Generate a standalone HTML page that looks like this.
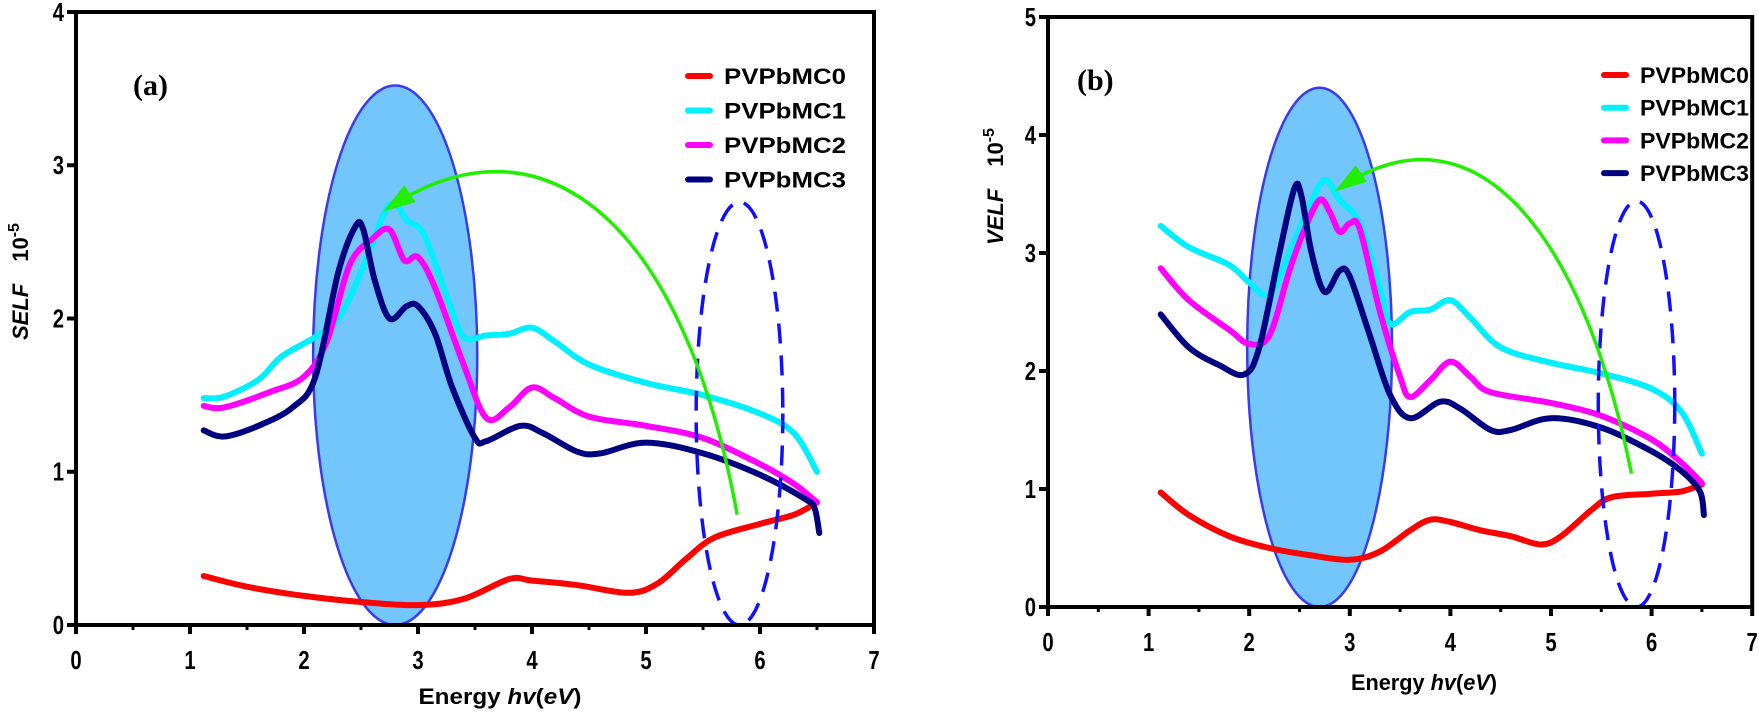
<!DOCTYPE html>
<html><head><meta charset="utf-8"><style>
html,body{margin:0;padding:0;background:#fff}
svg{display:block}
text{font-family:"Liberation Sans",sans-serif;font-weight:bold;fill:#000}
</style></head><body>
<svg id="s" width="1759" height="715" viewBox="0 0 1759 715" xmlns="http://www.w3.org/2000/svg">
<g id="g"></g>
</svg>
<script>
const NS="http://www.w3.org/2000/svg";
const g=document.getElementById('g');
function el(t,a,txt){const e=document.createElementNS(NS,t);for(const k in a)e.setAttribute(k,a[k]);if(txt!==undefined)e.textContent=txt;g.appendChild(e);return e;}
function path(pts){let d="M"+pts[0][0].toFixed(1)+","+pts[0][1].toFixed(1);
 for(let i=0;i<pts.length-1;i++){const p0=pts[i-1]||pts[i],p1=pts[i],p2=pts[i+1],p3=pts[i+2]||p2;
 const c1=[p1[0]+(p2[0]-p0[0])/6,p1[1]+(p2[1]-p0[1])/6],c2=[p2[0]-(p3[0]-p1[0])/6,p2[1]-(p3[1]-p1[1])/6];
 d+=" C"+c1.map(v=>v.toFixed(1))+" "+c2.map(v=>v.toFixed(1))+" "+p2.map(v=>v.toFixed(1));}
 return d;}
function panel(P){
 const X=e=>P.x0+P.sx*e, Y=v=>P.y0-P.sy*v;
 el('ellipse',{cx:X(P.el[0]),cy:Y(P.el[1]),rx:P.sx*P.el[2],ry:P.sy*P.el[1],fill:'#72c6fb',stroke:'#3a3af0','stroke-width':2.5});
 const cols=['#ff0000','#00f0ff','#ff00ff','#000080'];
 P.data.forEach((d,i)=>{el('path',{d:path(d.map(p=>[X(p[0]),Y(p[1])])),fill:'none',stroke:cols[i],'stroke-width':6,'stroke-linecap':'round','stroke-linejoin':'round'});});
 el('ellipse',{cx:X(P.de[0]),cy:Y(P.de[1]),rx:P.sx*P.de[2],ry:P.sy*P.de[1],fill:'none',stroke:'#1010ff','stroke-width':3.5,'stroke-dasharray':'20 12'});
 const a=P.ar.map(p=>[X(p[0]),Y(p[1])]);
 el('path',{d:`M${a[0]} C${a[1]} ${a[2]} ${a[3]}`,fill:'none',stroke:'#22ee00','stroke-width':3.5});
 const h=a[3],c=a[2];const ang=Math.atan2(h[1]-c[1],h[0]-c[0]);const L=26,W=10;
 const b=[h[0]-L*Math.cos(ang),h[1]-L*Math.sin(ang)];
 el('polygon',{points:`${h[0]+6*Math.cos(ang)},${h[1]+6*Math.sin(ang)} ${b[0]-W*Math.sin(ang)},${b[1]+W*Math.cos(ang)} ${b[0]+W*Math.sin(ang)},${b[1]-W*Math.cos(ang)}`,fill:'#22ee00'});
 el('rect',{x:X(0),y:Y(P.ymax),width:P.sx*7,height:P.sy*P.ymax,fill:'none',stroke:'#000','stroke-width':4});
 for(let i=0;i<=14;i++){const x=X(i/2);el('line',{x1:x,x2:x,y1:Y(0),y2:Y(0)+(i%2?5:9),stroke:'#000','stroke-width':i%2?3:4});}
 for(let i=0;i<=7;i++)el('text',{x:X(i),y:Y(0)+P.tly,'text-anchor':'middle','font-size':26,transform:`translate(${X(i)} 0) scale(0.78 1) translate(${-X(i)} 0)`},i);
 for(let v=0;v<=P.ymax;v++){el('line',{x1:X(0)-9,x2:X(0),y1:Y(v),y2:Y(v),stroke:'#000','stroke-width':4});
  el('text',{x:X(0)-12,y:Y(v)+9,'text-anchor':'end','font-size':26,transform:`translate(${X(0)-12} 0) scale(0.78 1) translate(${-(X(0)-12)} 0)`},v);}
 const names=['PVPbMC0','PVPbMC1','PVPbMC2','PVPbMC3'];
 names.forEach((n,i)=>{const y=P.lg[1]+i*P.lg[2];el('line',{x1:P.lg[0],x2:P.lg[0]+22,y1:y,y2:y,stroke:cols[i],'stroke-width':6,'stroke-linecap':'round'});
  el('text',{x:P.lg[0]+36,y:y+8,'font-size':22,textLength:P.lg[3],lengthAdjust:'spacingAndGlyphs'},n);});
 el('text',{x:P.lab[0],y:P.lab[1],'font-size':30,style:'font-family:"Liberation Serif",serif'},P.lab[2]);
 const t=el('text',{x:P.xt[0],y:P.xt[1],'text-anchor':'middle','font-size':22,textLength:P.xt[2],lengthAdjust:'spacingAndGlyphs'});
 t.innerHTML='Energy <tspan font-style="italic">hv</tspan>(<tspan font-style="italic">eV</tspan>)';
 const yt=el('text',{x:0,y:0,'font-size':22,transform:`translate(${P.yt[0]} ${P.yt[1]}) rotate(-90)`});
 yt.innerHTML=`<tspan font-style="italic">${P.yt[2]}</tspan><tspan dx="22">10</tspan><tspan dy="-9" font-size="16">-5</tspan>`;
}
panel({x0:76,sx:114,y0:625,sy:153.25,ymax:4,tly:44,
 el:[2.8,1.76,0.72],de:[5.82,1.38,0.38],
 ar:[[5.8,0.72],[5.3,2.75],[4.0,3.35],[2.74,2.72]],
 lg:[688,76,34.5,122],lab:[133,95,'(a)'],xt:[500,704,163],yt:[28,340,'SELF'],
 data:[
 [[1.12,0.32],[1.5,0.25],[2,0.19],[2.5,0.15],[3,0.13],[3.4,0.17],[3.8,0.3],[4.0,0.29],[4.4,0.26],[4.85,0.21],[5.1,0.27],[5.35,0.43],[5.6,0.57],[6.0,0.66],[6.3,0.72],[6.5,0.8]],
 [[1.12,1.48],[1.3,1.49],[1.6,1.6],[1.8,1.75],[2.1,1.88],[2.3,2.0],[2.5,2.3],[2.7,2.68],[2.8,2.75],[2.9,2.64],[3.05,2.55],[3.25,2.15],[3.4,1.88],[3.6,1.89],[3.8,1.9],[4.0,1.94],[4.2,1.85],[4.5,1.7],[5,1.58],[5.5,1.5],[6,1.38],[6.3,1.25],[6.5,1.0]],
 [[1.12,1.43],[1.3,1.42],[1.7,1.52],[2.0,1.62],[2.2,1.85],[2.4,2.35],[2.6,2.52],[2.75,2.58],[2.88,2.38],[3.0,2.4],[3.15,2.2],[3.4,1.7],[3.6,1.35],[3.8,1.42],[4.0,1.55],[4.2,1.48],[4.5,1.36],[5,1.3],[5.5,1.22],[6,1.05],[6.3,0.92],[6.5,0.8]],
 [[1.12,1.27],[1.3,1.23],[1.6,1.3],[1.9,1.42],[2.1,1.62],[2.3,2.3],[2.45,2.6],[2.52,2.58],[2.62,2.25],[2.75,2.0],[2.9,2.08],[3.0,2.08],[3.15,1.9],[3.3,1.55],[3.5,1.22],[3.6,1.2],[3.9,1.3],[4.1,1.25],[4.4,1.13],[4.6,1.12],[5,1.19],[5.5,1.12],[6,0.98],[6.4,0.82],[6.48,0.76],[6.52,0.6]]]});
panel({x0:1048,sx:100.6,y0:607,sy:118,ymax:5,tly:44,
 el:[2.7,2.2,0.72],de:[5.85,1.72,0.38],
 ar:[[5.8,1.13],[5.3,3.25],[4.2,4.3],[2.9,3.55]],
 lg:[1604,75,32.7,109],lab:[1077,90,'(b)'],xt:[1424,690,146],yt:[1003,245,'VELF'],
 data:[
 [[1.12,0.97],[1.4,0.78],[1.8,0.6],[2.2,0.5],[2.6,0.44],[3.0,0.4],[3.3,0.47],[3.6,0.65],[3.8,0.74],[4.0,0.72],[4.3,0.65],[4.6,0.6],[4.9,0.53],[5.1,0.6],[5.4,0.82],[5.6,0.93],[6,0.96],[6.3,0.98],[6.5,1.04]],
 [[1.12,3.23],[1.4,3.05],[1.8,2.9],[2.0,2.75],[2.2,2.65],[2.4,3.0],[2.6,3.4],[2.75,3.62],[2.9,3.45],[3.1,3.25],[3.3,2.7],[3.4,2.4],[3.6,2.5],[3.8,2.52],[4.0,2.6],[4.2,2.45],[4.5,2.2],[5,2.07],[5.5,1.98],[6,1.85],[6.3,1.65],[6.5,1.3]],
 [[1.12,2.87],[1.4,2.6],[1.8,2.35],[2.0,2.23],[2.2,2.3],[2.4,2.85],[2.55,3.2],[2.7,3.45],[2.8,3.35],[2.9,3.18],[3.0,3.25],[3.1,3.2],[3.3,2.5],[3.5,1.95],[3.6,1.78],[3.8,1.92],[4.0,2.08],[4.2,1.95],[4.4,1.82],[5,1.73],[5.5,1.62],[6,1.42],[6.3,1.22],[6.5,1.05]],
 [[1.12,2.48],[1.4,2.2],[1.7,2.05],[1.95,1.97],[2.1,2.2],[2.3,3.0],[2.45,3.55],[2.52,3.48],[2.62,3.0],[2.75,2.67],[2.9,2.85],[3.0,2.8],[3.2,2.3],[3.4,1.8],[3.6,1.6],[3.9,1.74],[4.1,1.68],[4.4,1.5],[4.6,1.5],[5,1.6],[5.5,1.52],[6,1.32],[6.3,1.15],[6.48,0.98],[6.52,0.78]]]});
</script>
</body></html>
